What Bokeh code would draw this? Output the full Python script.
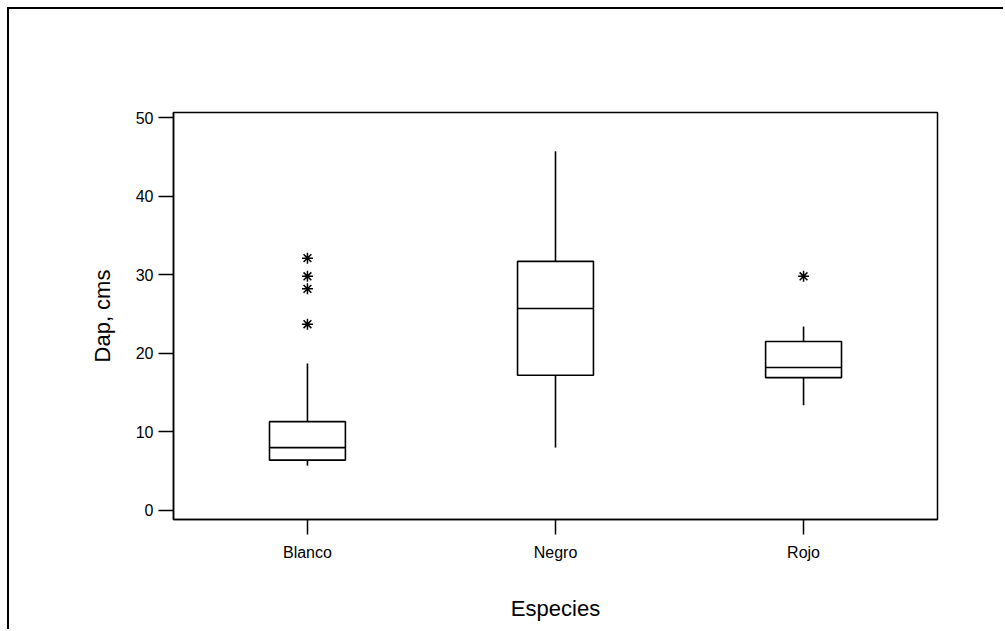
from bokeh.plotting import figure
from bokeh.models import Range1d, FixedTicker
from bokeh.embed import file_html
from bokeh.resources import INLINE

species = ["Blanco", "Negro", "Rojo"]
q1 = [6.4, 17.2, 16.9]
median = [8.0, 25.7, 18.2]
q3 = [11.3, 31.7, 21.5]
lower = [5.7, 8.0, 13.4]
upper = [18.7, 45.7, 23.4]
outlier_species = ["Blanco", "Blanco", "Blanco", "Blanco", "Rojo"]
outlier_values = [32.1, 29.8, 28.2, 23.7, 29.8]
y_ticks = [0, 10, 20, 30, 40, 50]

FONT = "Liberation Sans"
pos = list(range(len(species)))
half = 0.153
ox = [species.index(s) for s in outlier_species]

OFF = 9  # page-frame offset (margin + border)
p = figure(width=996, height=622, output_backend="svg", toolbar_location=None,
           x_range=Range1d(-0.54, 2.54), y_range=Range1d(-1.15, 50.64))
p.margin = (7, 0, 0, 7)
p.styles = {"border-top": "2px solid black", "border-left": "2px solid black"}
p.min_border_left = 173 - OFF
p.min_border_right = 68
p.min_border_top = 112 - OFF
p.min_border_bottom = 112
p.background_fill_color = "white"
p.border_fill_color = "white"
p.grid.visible = False
p.outline_line_color = "black"
p.outline_line_width = 1.5

# whiskers
p.segment(x0=pos, x1=pos, y0=q3, y1=upper, line_color="black", line_width=1.6)
p.segment(x0=pos, x1=pos, y0=lower, y1=q1, line_color="black", line_width=1.6)
# boxes
p.vbar(x=pos, width=2 * half, bottom=q1, top=q3, fill_color="white",
       line_color="black", line_width=1.6)
# medians
p.segment(x0=[x - half for x in pos], x1=[x + half for x in pos], y0=median, y1=median,
          line_color="black", line_width=1.6)
# outliers
p.scatter(x=ox, y=outlier_values, marker="asterisk", size=11, line_color="black", line_width=1.5)

for ax in (p.xaxis[0], p.yaxis[0]):
    ax.axis_line_color = "black"
    ax.axis_line_width = 1.5
    ax.major_tick_line_color = "black"
    ax.major_tick_line_width = 1.5
    ax.major_tick_out = 15
    ax.major_tick_in = 0
    ax.minor_tick_line_color = None
    ax.major_label_text_font = FONT
    ax.major_label_text_font_size = "16px"
    ax.major_label_text_color = "black"
    ax.axis_label_text_font = FONT
    ax.axis_label_text_font_style = "normal"
    ax.axis_label_text_font_size = "22px"
    ax.axis_label_text_color = "black"

p.xaxis.ticker = FixedTicker(ticks=pos)
p.xaxis.major_label_overrides = {i: s for i, s in enumerate(species)}
p.xaxis.major_label_standoff = 9
p.xaxis.axis_label = "Especies"
p.xaxis.axis_label_standoff = 32

p.yaxis.ticker = FixedTicker(ticks=y_ticks)
p.yaxis.major_label_standoff = 5
p.yaxis.axis_label = "Dap, cms"
p.yaxis.axis_label_standoff = 18

open("out.html", "w").write(file_html(p, INLINE))
